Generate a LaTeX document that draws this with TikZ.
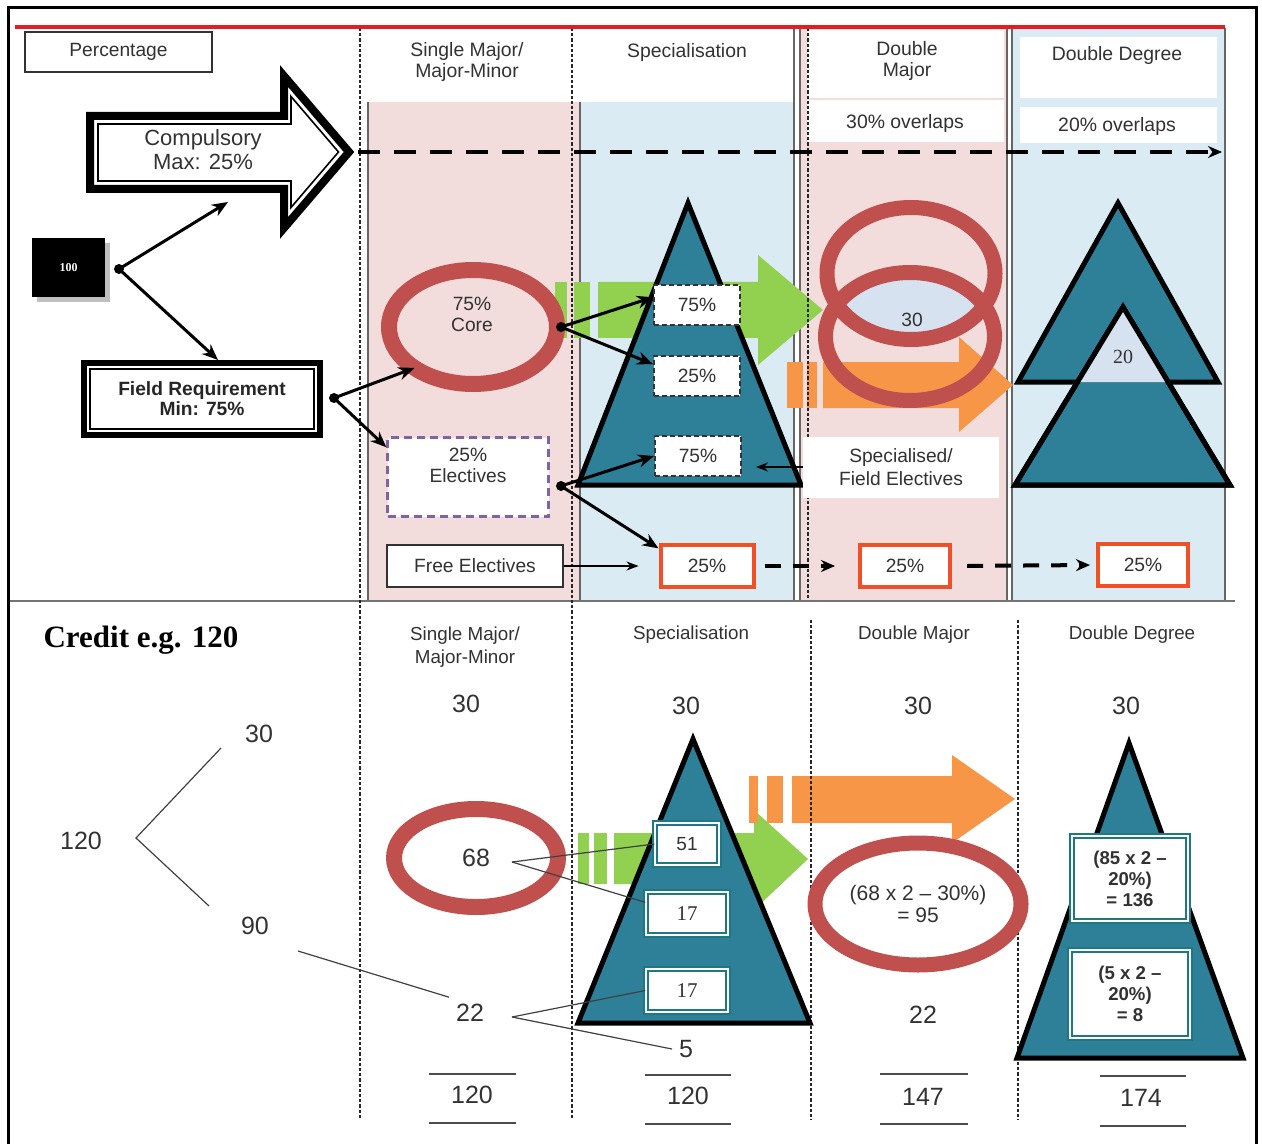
\documentclass[tikz,border=0pt]{standalone}
\usepackage{fontspec}
\setmainfont{Liberation Sans}
\newfontfamily\seriffont{Liberation Serif}
\usetikzlibrary{shapes.geometric,arrows.meta,shadows}

\definecolor{pinkbg}{RGB}{242,220,220}
\definecolor{bluebg}{RGB}{218,235,243}
\definecolor{tealfill}{RGB}{46,128,153}
\definecolor{tealline}{RGB}{30,120,130}
\definecolor{ringred}{RGB}{192,80,77}
\definecolor{leafgreen}{RGB}{146,208,80}
\definecolor{orangefill}{RGB}{247,150,70}
\definecolor{boxred}{RGB}{240,80,40}
\definecolor{lensblue}{RGB}{214,226,240}
\definecolor{purpledash}{RGB}{128,100,162}
\definecolor{inkgray}{RGB}{50,50,50}
\definecolor{redline}{RGB}{228,28,36}

\tikzset{
  hdr/.style={font=\fontsize{9.7}{10.8}\selectfont, text=inkgray, align=center},
  hdrsmall/.style={font=\fontsize{9.4}{11.5}\selectfont, text=inkgray, align=center},
  txt/.style={font=\fontsize{9.6}{10.5}\selectfont, text=inkgray, align=center},
  numtxt/.style={font=\fontsize{12.5}{14}\selectfont, text=inkgray},
  dotnode/.style={circle, fill=black, inner sep=0pt, minimum size=5pt},
  plainbox/.style={draw=inkgray, line width=0.6pt, fill=white, txt, inner sep=0pt},
  dashbox/.style={draw=black!80, dash pattern=on 2.5pt off 1.5pt, line width=1pt, fill=white, txt, minimum width=43pt, minimum height=20pt},
  redbox/.style={draw=boxred, line width=2pt, fill=white, txt, minimum height=21pt},
  tealbox/.style={draw=tealline, line width=0.7pt, double=white, double distance=1.4pt, fill=white, text=inkgray, align=center, inner sep=0pt},
  ringnode/.style={ellipse, draw=ringred, inner sep=0pt, outer sep=0pt},
  tri/.style={fill=tealfill, draw=black, line width=2.5pt, line join=miter},
  arrowline/.style={line width=1.5pt, -{Stealth[length=8pt, width=6.5pt]}},
  thinarrow/.style={line width=0.6pt, -{Stealth[length=6pt, width=4.5pt]}},
  dashedarrow/.style={line width=2pt, dash pattern=on 11pt off 7pt, -{Stealth[length=7pt, width=6pt]}},
  guideline/.style={line width=1pt, dash pattern=on 1.6pt off 1pt, black!85},
  colline/.style={line width=0.6pt, black!60},
  sumrule/.style={line width=0.6pt, black!70},
  thinline/.style={line width=0.6pt, black!75}
}

\begin{document}
\begin{tikzpicture}[x=0.5pt, y=-0.5pt]
\useasboundingbox (0,0) rectangle (1262,1144);

\fill[pinkbg] (368,102) rectangle (580,600);
\fill[bluebg] (580,102) rectangle (795,600);
\fill[pinkbg] (800,28) rectangle (1008,600);
\fill[bluebg] (1012,28) rectangle (1225,600);
\fill[white] (807,30) rectangle (1004,98);
\fill[white] (807,100) rectangle (1004,142);
\fill[white] (1020,37) rectangle (1217,98);
\fill[white] (1020,107) rectangle (1217,143);

\draw[colline] (368,102) -- (368,600);
\draw[colline] (580,102) -- (580,600);
\draw[colline] (794,28) -- (794,600);
\draw[colline] (800,28) -- (800,600);
\draw[colline] (1007,28) -- (1007,600);
\draw[colline] (1012,28) -- (1012,600);
\draw[colline] (1225,28) -- (1225,600);
\draw[line width=1pt, black!55] (8,601) -- (1235,601);

\node[hdr] (SingleTop) at (467,62) {Single Major/\\Major-Minor};
\node[hdr] (SpecTop) at (687,52) {Specialisation};
\node[hdr] (DoubleMajorTop) at (907,61) {Double\\Major};
\node[hdr] (OverlapMajor) at (905,123) {30\% overlaps};
\node[hdr] (DoubleDegreeTop) at (1117,55) {Double Degree};
\node[hdr] (OverlapDegree) at (1117,126) {20\% overlaps};

\fill[leafgreen] (555,282) rectangle (567,338);
\fill[leafgreen] (574,282) rectangle (590,338);
\fill[leafgreen] (598,282) -- (758,282) -- (758,255) -- (823,310) -- (758,365) -- (758,338) -- (598,338) -- cycle;
\fill[orangefill] (787,362) rectangle (803,408);
\fill[orangefill] (807,362) rectangle (817,408);
\fill[orangefill] (823,362) -- (959,362) -- (959,337) -- (1013,385) -- (959,432) -- (959,408) -- (823,408) -- cycle;

\fill[leafgreen] (578,833) rectangle (589,884);
\fill[leafgreen] (594,833) rectangle (607,884);
\fill[leafgreen] (614,833) -- (754,833) -- (754,810) -- (808,859) -- (754,910) -- (754,884) -- (614,884) -- cycle;
\fill[orangefill] (749,776) rectangle (758,823);
\fill[orangefill] (767,776) rectangle (783,823);
\fill[orangefill] (792,776) -- (952,776) -- (952,755) -- (1015,799) -- (952,843) -- (952,823) -- (792,823) -- cycle;

\draw[guideline] (360,28) -- (360,1120);
\draw[guideline] (572,28) -- (572,1120);
\draw[guideline] (808,28) -- (808,600);
\draw[guideline] (811,620) -- (811,1120);
\draw[guideline] (1018,620) -- (1018,1120);

\draw[tri] (688,203) -- (801,485) -- (578,485) -- cycle;

\begin{scope}
\clip (911,273.5) ellipse [x radius=84, y radius=66];
\fill[lensblue] (910,336.5) ellipse [x radius=84.5, y radius=64];
\end{scope}
\node[ringnode, line width=7.5pt, minimum width=84pt, minimum height=66pt] (UpperRing) at (911,273.5) {};
\node[ringnode, line width=7.5pt, minimum width=84.5pt, minimum height=64pt] (LowerRing) at (910,336.5) {};
\node[txt] (OverlapThirty) at (912,320) {30};

\draw[tri] (1118,203) -- (1218,382) -- (1018,382) -- cycle;
\draw[tri] (1123,307) -- (1230,485) -- (1015,485) -- cycle;
\fill[lensblue] (1123,307) -- (1168,382) -- (1077.5,382) -- cycle;
\draw[line width=2.5pt, line join=miter] (1123,307) -- (1230,485) -- (1015,485) -- cycle;
\node[font=\seriffont\fontsize{10}{12}\selectfont, text=inkgray] (OverlapTwenty) at (1123,357) {20};

\node[plainbox, minimum width=93.5pt, minimum height=20pt] (Percentage) at (118.5,52) {Percentage};

\draw[line width=4pt, line join=miter] (90,116) -- (284,116) -- (284,76) -- (349,152) -- (284,228) -- (284,189) -- (90,189) -- cycle;
\draw[line width=0.8pt, line join=miter] (98,124) -- (291,124) -- (291,96.5) -- (338.5,152) -- (291,207.5) -- (291,181) -- (98,181) -- cycle;
\node[font=\fontsize{11}{12}\selectfont, text=inkgray, align=center] (Compulsory) at (203,150) {Compulsory\\Max: 25\%};
\coordinate (CompulsoryTip) at (358,152);
\coordinate (CompulsoryIn) at (228,202);
\coordinate (OverlapEnd) at (1222,152);
\draw[dashedarrow] (CompulsoryTip) -- (OverlapEnd);

\node[fill=black, minimum width=36.5pt, minimum height=29.5pt, inner sep=0pt, drop shadow={shadow xshift=2.5pt, shadow yshift=-2.5pt, fill=black!25, opacity=1}, text=white, font=\seriffont\bfseries\fontsize{6}{7}\selectfont] (Hundred) at (68.5,267.5) {100};
\node[dotnode] (HundredDot) at (119,269) {};

\node[draw, line width=3pt, minimum width=118pt, minimum height=36pt, fill=white, inner sep=0pt, text=black!85, font=\bfseries\fontsize{9.6}{10}\selectfont, align=center] (FieldReq) at (202,399) {Field Requirement\\Min: 75\%};
\draw[line width=0.6pt] ([shift={(9,-9)}]FieldReq.south west) rectangle ([shift={(-9,9)}]FieldReq.north east);
\node[dotnode] (FieldDot) at (334,398) {};

\draw[arrowline] (HundredDot.center) -- (CompulsoryIn);
\draw[arrowline] (HundredDot.center) -- ([xshift=8pt]FieldReq.north);

\node[ringnode, line width=8pt, minimum width=84pt, minimum height=57pt] (Core) at (473,327) {};
\node[txt] (CoreLabel) at (472,314) {75\%\\Core};
\node[dotnode] (CoreDot) at (561,327) {};

\node[draw=purpledash, dash pattern=on 4pt off 2.5pt, line width=1.1pt, fill=white, minimum width=80.5pt, minimum height=39.5pt, text depth=12pt, txt] (Electives) at (468,477) {25\%\\Electives};
\node[dotnode] (ElectivesDot) at (561,486) {};
\node[plainbox, minimum width=88pt, minimum height=21pt] (FreeElectives) at (475,566) {Free Electives};

\draw[arrowline] (FieldDot.center) -- (Core.215);
\draw[arrowline] (FieldDot.center) -- (Electives.160);

\node[dashbox] (SpecCore) at (697,305) {75\%};
\node[dashbox] (SpecCoreRest) at (697,376) {25\%};
\node[dashbox] (SpecElective) at (698,456) {75\%};
\node[txt, fill=white, minimum width=98pt, minimum height=30.5pt, font=\fontsize{9.6}{11.5}\selectfont] (FieldElectives) at (901,467) {Specialised/\\Field Electives};

\node[redbox, minimum width=46.5pt] (FreeSpec) at (707,566) {25\%};
\node[redbox, minimum width=45pt] (FreeMajor) at (905,566) {25\%};
\node[redbox, minimum width=45pt] (FreeDegree) at (1143,565) {25\%};

\draw[arrowline] (CoreDot.center) -- (SpecCore.170);
\draw[arrowline] (CoreDot.center) -- (SpecCoreRest.165);
\draw[arrowline] (ElectivesDot.center) -- (SpecElective.west);
\draw[arrowline] (ElectivesDot.center) -- (FreeSpec.160);
\draw[thinarrow, shorten >=7pt] (FieldElectives.west) -- (FieldElectives.west -| SpecElective.east);
\draw[thinarrow, shorten >=10pt] (FreeElectives.east) -- (FreeSpec.west);
\draw[dashedarrow, dash pattern=on 8pt off 6pt, shorten <=4.5pt, shorten >=11.5pt] (FreeSpec.east) -- (FreeMajor.west);
\draw[dashedarrow, dash pattern=on 8pt off 6pt, shorten <=7.5pt, shorten >=3pt] (FreeMajor.east) -- (FreeDegree.west);

\node[font=\seriffont\bfseries\fontsize{15.5}{17}\selectfont] (Credit) at (141,640) {Credit e.g. 120};
\node[hdrsmall] (SingleBottom) at (465,647) {Single Major/\\Major-Minor};
\node[hdrsmall] (SpecBottom) at (691,635) {Specialisation};
\node[hdrsmall] (DoubleMajorBottom) at (914,635) {Double Major};
\node[hdrsmall] (DoubleDegreeBottom) at (1132,635) {Double Degree};

\node[numtxt] (Total) at (81,841) {120};
\node[numtxt] (CompCredit) at (259,734) {30};
\node[numtxt] (FieldCredit) at (255,926) {90};

\node[numtxt] (SingleComp) at (466,704) {30};
\node[ringnode, line width=8pt, minimum width=82pt, minimum height=49pt, numtxt] (SingleCore) at (476,858) {68};
\node[numtxt] (SingleFree) at (470,1013) {22};
\node[numtxt] (SingleSum) at (472,1095) {120};

\draw[tri] (693,739) -- (810,1023) -- (578,1023) -- cycle;
\node[tealbox, minimum width=32pt, minimum height=21pt, font=\fontsize{9.5}{11}\selectfont] (SpecCoreCredit) at (687,844) {51};
\node[tealbox, minimum width=41pt, minimum height=21.5pt, font=\seriffont\fontsize{10.5}{12}\selectfont] (SpecFieldCredit) at (687,913.5) {17};
\node[tealbox, minimum width=41pt, minimum height=21.5pt, font=\seriffont\fontsize{10.5}{12}\selectfont] (SpecElecCredit) at (687,990.5) {17};
\node[numtxt] (SpecComp) at (686,706) {30};
\node[numtxt] (SpecFree) at (686,1049) {5};
\node[numtxt] (SpecSum) at (688,1096) {120};

\node[ringnode, line width=7.5pt, minimum width=103pt, minimum height=61pt, font=\fontsize{10.5}{11}\selectfont, text=inkgray, align=center] (MajorCore) at (918,904) {(68 x 2 -- 30\%)\\= 95};
\node[numtxt] (MajorComp) at (918,706) {30};
\node[numtxt] (MajorFree) at (923,1015) {22};
\node[numtxt] (MajorSum) at (923,1097) {147};

\draw[tri] (1129,743) -- (1243,1058) -- (1017,1058) -- cycle;
\node[tealbox, minimum width=58pt, minimum height=42.5pt, font=\bfseries\fontsize{9.3}{10.5}\selectfont] (DegreeCore) at (1130,878.5) {(85 x 2 --\\20\%)\\= 136};
\node[tealbox, minimum width=60pt, minimum height=44pt, font=\bfseries\fontsize{9.3}{10.5}\selectfont] (DegreeElec) at (1130,994) {(5 x 2 --\\20\%)\\= 8};
\node[numtxt] (DegreeComp) at (1126,706) {30};
\node[numtxt] (DegreeSum) at (1141,1098) {174};

\draw[thinline] ([shift={(-38,14)}]CompCredit.center) -- ([shift={(55,-3)}]Total.center) -- ([shift={(-46,-20)}]FieldCredit.center);
\draw[thinline] ([shift={(43,25)}]FieldCredit.center) -- (SingleFree.north west);
\draw[thinline] ([shift={(36,4)}]SingleCore.center) -- (SpecCoreCredit.west);
\draw[thinline] ([shift={(36,4)}]SingleCore.center) -- (SpecFieldCredit.165);
\draw[thinline] ([shift={(42,4)}]SingleFree.center) -- (SpecElecCredit.west);
\draw[thinline] ([shift={(42,4)}]SingleFree.center) -- (SpecFree.west);

\draw[sumrule] ([shift={(-43,-21)}]SingleSum.center) -- ([shift={(44,-21)}]SingleSum.center);
\draw[sumrule] ([shift={(-43,28)}]SingleSum.center) -- ([shift={(44,28)}]SingleSum.center);
\draw[sumrule] ([shift={(-43,-21)}]SpecSum.center) -- ([shift={(43,-21)}]SpecSum.center);
\draw[sumrule] ([shift={(-43,28)}]SpecSum.center) -- ([shift={(43,28)}]SpecSum.center);
\draw[sumrule] ([shift={(-43,-23)}]MajorSum.center) -- ([shift={(45,-23)}]MajorSum.center);
\draw[sumrule] ([shift={(-43,27)}]MajorSum.center) -- ([shift={(45,27)}]MajorSum.center);
\draw[sumrule] ([shift={(-41,-22)}]DegreeSum.center) -- ([shift={(45,-22)}]DegreeSum.center);
\draw[sumrule] ([shift={(-41,28)}]DegreeSum.center) -- ([shift={(45,28)}]DegreeSum.center);

\draw[line width=2pt, redline] (15,27) -- (1225,27);
\draw[line width=1.5pt] (8,1144) -- (8,8) -- (1256,8) -- (1256,1144);
\end{tikzpicture}
\end{document}
